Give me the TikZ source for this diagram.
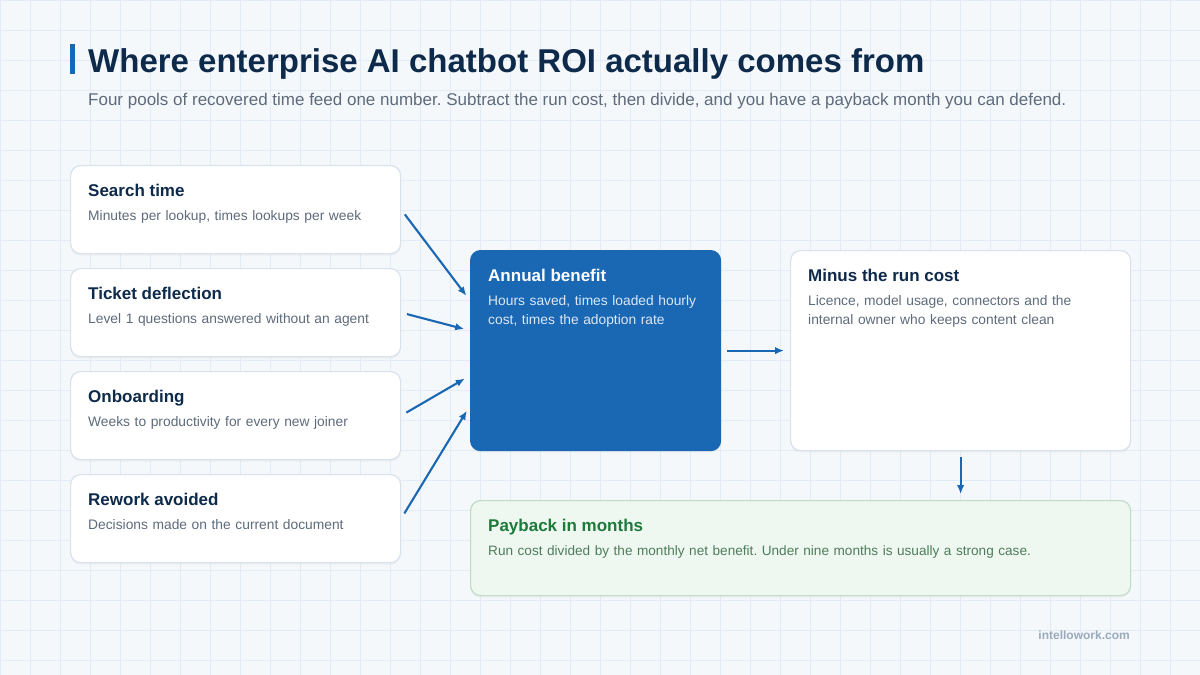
\documentclass[tikz,border=0pt]{standalone}
\usepackage{fontspec}
\setmainfont{Liberation Sans}
\usetikzlibrary{positioning,arrows.meta,calc,shadows}
\frenchspacing

\definecolor{pagebg}{HTML}{F5F8FB}
\definecolor{gridln}{HTML}{E3ECF6}
\definecolor{brand}{HTML}{1A67B4}
\definecolor{navy}{HTML}{0E2A4A}
\definecolor{slate}{HTML}{5E6B7B}
\definecolor{cardln}{HTML}{D9E1EB}
\definecolor{softblue}{HTML}{DCE8F5}
\definecolor{mint}{HTML}{EEF7F0}
\definecolor{mintln}{HTML}{BDDEC5}
\definecolor{leaf}{HTML}{1E7A3B}
\definecolor{leafsoft}{HTML}{4F7D5B}
\definecolor{muted}{HTML}{9AAABD}

\begin{document}
\begin{tikzpicture}[x=1pt,y=-1pt,
  card/.style={draw=cardln,line width=1.2pt,fill=white,rounded corners=10pt,
    anchor=north west,inner sep=0pt,
    drop shadow={shadow xshift=0pt,shadow yshift=-2pt,opacity=0.07}},
  ttl/.style={anchor=base west,inner sep=0pt,text=navy,
    font=\fontsize{17}{20}\selectfont\bfseries},
  desc/.style={anchor=base west,inner sep=0pt,text=slate,align=left,
    text width=300pt,font=\fontsize{13.8}{19.5}\selectfont},
  feed/.style={draw=brand,line width=2.1pt,-{Latex[length=9pt,width=7.5pt]},
    shorten <=6pt,shorten >=6pt}]
  \def\W{1200}  % page width, px
  \def\H{675}   % page height, px
  \useasboundingbox (0,0) rectangle (\W,\H);
  \fill[pagebg] (0,0) rectangle (\W,\H);
  \foreach \x in {0,30,...,1200}{
    \draw[gridln,line width=0.8pt] (\x,0) -- (\x,\H);
  }
  \foreach \y in {0,30,...,660}{
    \draw[gridln,line width=0.8pt] (0,\y) -- (\W,\y);
  }

  % heading
  \fill[brand] (70,44) rectangle (75,74);
  \node[anchor=base west,inner sep=0pt,text=navy,font=\fontsize{33}{38}\selectfont\bfseries]
    (title) at (88,72) {Where enterprise AI chatbot ROI actually comes from};
  \node[anchor=base west,inner sep=0pt,text=slate,font=\fontsize{17}{20}\selectfont]
    (subtitle) at (88,105) {Four pools of recovered time feed one number. Subtract the run cost, then divide, and you have a payback month you can defend.};

  % four pools
  \node[card,minimum width=330pt,minimum height=88pt] (search)  at (70,165) {};
  \node[card,minimum width=330pt,minimum height=88pt] (ticket)  at (70,268) {};
  \node[card,minimum width=330pt,minimum height=88pt] (onboard) at (70,371) {};
  \node[card,minimum width=330pt,minimum height=88pt] (rework)  at (70,474) {};
  \node[ttl]  (search-t)  at ($(search.north west)+(18,31)$)  {Search time};
  \node[desc] (search-d)  at ($(search.north west)+(18,55)$)  {Minutes per lookup, times lookups per week};
  \node[ttl]  (ticket-t)  at ($(ticket.north west)+(18,31)$)  {Ticket deflection};
  \node[desc] (ticket-d)  at ($(ticket.north west)+(18,55)$)  {Level 1 questions answered without an agent};
  \node[ttl]  (onboard-t) at ($(onboard.north west)+(18,31)$) {Onboarding};
  \node[desc] (onboard-d) at ($(onboard.north west)+(18,55)$) {Weeks to productivity for every new joiner};
  \node[ttl]  (rework-t)  at ($(rework.north west)+(18,31)$)  {Rework avoided};
  \node[desc] (rework-d)  at ($(rework.north west)+(18,55)$)  {Decisions made on the current document};

  % benefit, cost, payback
  \node[card,draw=brand,fill=brand,minimum width=250pt,minimum height=200pt] (annual) at (470,250) {};
  \node[ttl,text=white] (annual-t) at ($(annual.north west)+(18,31)$) {Annual benefit};
  \node[desc,text=softblue] (annual-d) at ($(annual.north west)+(18,55)$)
    {Hours saved, times loaded hourly\\cost, times the adoption rate};

  \node[card,minimum width=340pt,minimum height=200pt] (runcost) at (790,250) {};
  \node[ttl] (runcost-t) at ($(runcost.north west)+(18,31)$) {Minus the run cost};
  \node[desc] (runcost-d) at ($(runcost.north west)+(18,55)$)
    {Licence, model usage, connectors and the\\internal owner who keeps content clean};

  \node[card,draw=mintln,fill=mint,minimum width=660pt,minimum height=95pt] (payback) at (470,500) {};
  \node[ttl,text=leaf] (payback-t) at ($(payback.north west)+(18,31)$) {Payback in months};
  \node[desc,text=leafsoft,text width=620pt,font=\fontsize{13.6}{19.5}\selectfont] (payback-d)
    at ($(payback.north west)+(18,55)$)
    {Run cost divided by the monthly net benefit. Under nine months is usually a strong case.};

  % connectors
  \draw[feed] (search.east)  -- ($(annual.west)+(0,-50)$);
  \draw[feed] (ticket.east)  -- ($(annual.west)+(0,-20)$);
  \draw[feed] (onboard.east) -- ($(annual.west)+(0,25)$);
  \draw[feed] (rework.east)  -- ($(annual.west)+(0,55)$);
  \draw[feed] (annual.east)  -- (runcost.west);
  \draw[feed] (runcost.south) -- (runcost.south |- payback.north);

  \node[anchor=base east,inner sep=0pt,text=muted,font=\fontsize{12}{14}\selectfont\bfseries]
    (footer) at (1130,639) {intellowork.com};
\end{tikzpicture}
\end{document}
